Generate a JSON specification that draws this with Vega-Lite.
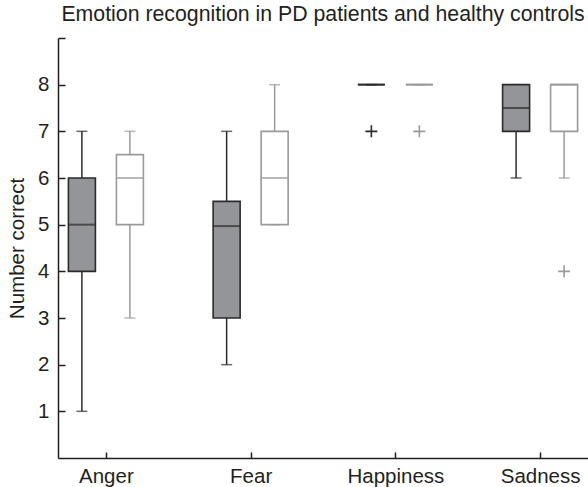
{
  "$schema": "https://vega.github.io/schema/vega-lite/v6.json",
  "width": 530,
  "height": 420,
  "autosize": "none",
  "padding": {"left": 58, "top": 38, "right": 0, "bottom": 29},
  "background": "#ffffff",
  "title": {
    "text": "Emotion recognition in PD patients and healthy controls",
    "font": "Liberation Sans",
    "fontSize": 21.3,
    "fontWeight": "normal",
    "color": "#231f20",
    "anchor": "middle",
    "baseline": "alphabetic",
    "offset": -5
  },
  "config": {
    "view": {"stroke": null},
    "axis": {
      "labelFont": "Liberation Sans",
      "titleFont": "Liberation Sans",
      "labelFontSize": 20.5,
      "titleFontSize": 20.5,
      "titleFontWeight": "normal",
      "labelColor": "#231f20",
      "titleColor": "#231f20",
      "domainColor": "#231f20",
      "tickColor": "#231f20",
      "domainWidth": 1.5,
      "tickWidth": 1.5,
      "grid": false
    }
  },
  "datasets": {
    "stats": [
      {"emotion": "Anger", "group": "PD", "min": 1, "q1": 4, "median": 5, "q3": 6, "max": 7},
      {"emotion": "Anger", "group": "Control", "min": 3, "q1": 5, "median": 6, "q3": 6.5, "max": 7},
      {"emotion": "Fear", "group": "PD", "min": 2, "q1": 3, "median": 4.97, "q3": 5.5, "max": 7},
      {"emotion": "Fear", "group": "Control", "min": 5, "q1": 5, "median": 6, "q3": 7, "max": 8},
      {"emotion": "Happiness", "group": "PD", "min": 8, "q1": 8, "median": 8, "q3": 8, "max": 8},
      {"emotion": "Happiness", "group": "Control", "min": 8, "q1": 8, "median": 8, "q3": 8, "max": 8},
      {"emotion": "Sadness", "group": "PD", "min": 6, "q1": 7, "median": 7.5, "q3": 8, "max": 8},
      {"emotion": "Sadness", "group": "Control", "min": 6, "q1": 7, "median": 8, "q3": 8, "max": 8}
    ],
    "outliers": [
      {"emotion": "Happiness", "group": "PD", "value": 7},
      {"emotion": "Happiness", "group": "Control", "value": 7},
      {"emotion": "Sadness", "group": "Control", "value": 4}
    ]
  },
  "encoding": {
    "x": {
      "field": "emotion",
      "type": "nominal",
      "sort": ["Anger", "Fear", "Happiness", "Sadness"],
      "scale": {"type": "point", "padding": 0.331},
      "axis": {"title": null, "labelAngle": 0, "tickSize": -6, "labelPadding": 14, "labelBaseline": "top"}
    },
    "xOffset": {
      "field": "group",
      "type": "nominal",
      "sort": ["PD", "Control"],
      "scale": {"type": "point", "range": [-24, 24], "padding": 0}
    }
  },
  "layer": [
    {
      "data": {"name": "stats"},
      "mark": {"type": "rule", "strokeWidth": 1.5},
      "encoding": {
        "y": {
          "field": "min",
          "type": "quantitative",
          "scale": {"domain": [0, 9], "nice": false, "zero": false},
          "axis": {
            "title": "Number correct",
            "values": [1, 2, 3, 4, 5, 6, 7, 8, 9],
            "labelExpr": "datum.value == 9 ? '' : datum.label",
            "tickSize": -7,
            "labelPadding": 16,
            "titleX": -35,
            "titleBaseline": "alphabetic"
          }
        },
        "y2": {"field": "max"},
        "color": {
          "field": "group",
          "type": "nominal",
          "scale": {"domain": ["PD", "Control"], "range": ["#2b2b2b", "#9a9a9a"]},
          "legend": null
        }
      }
    },
    {
      "data": {"name": "stats"},
      "mark": {"type": "tick", "size": 11, "thickness": 1.5},
      "encoding": {
        "y": {"field": "min", "type": "quantitative"},
        "color": {"field": "group", "type": "nominal", "legend": null}
      }
    },
    {
      "data": {"name": "stats"},
      "mark": {"type": "tick", "size": 11, "thickness": 1.5},
      "encoding": {
        "y": {"field": "max", "type": "quantitative"},
        "color": {"field": "group", "type": "nominal", "legend": null}
      }
    },
    {
      "data": {"name": "stats"},
      "mark": {"type": "bar", "width": 27, "strokeWidth": 1.6},
      "encoding": {
        "y": {"field": "q1", "type": "quantitative"},
        "y2": {"field": "q3"},
        "fill": {
          "field": "group",
          "type": "nominal",
          "scale": {"domain": ["PD", "Control"], "range": ["#939598", "#ffffff"]},
          "legend": null
        },
        "stroke": {
          "field": "group",
          "type": "nominal",
          "scale": {"domain": ["PD", "Control"], "range": ["#2b2b2b", "#9a9a9a"]},
          "legend": null
        }
      }
    },
    {
      "data": {"name": "stats"},
      "mark": {"type": "tick", "size": 27, "thickness": 2},
      "encoding": {
        "y": {"field": "median", "type": "quantitative"},
        "color": {"field": "group", "type": "nominal", "legend": null}
      }
    },
    {
      "data": {"name": "outliers"},
      "mark": {"type": "point", "shape": "M-1,0L1,0M0,-1L0,1", "filled": false, "size": 144, "strokeWidth": 1.6, "opacity": 1},
      "encoding": {
        "y": {"field": "value", "type": "quantitative"},
        "color": {"field": "group", "type": "nominal", "legend": null}
      }
    }
  ]
}
